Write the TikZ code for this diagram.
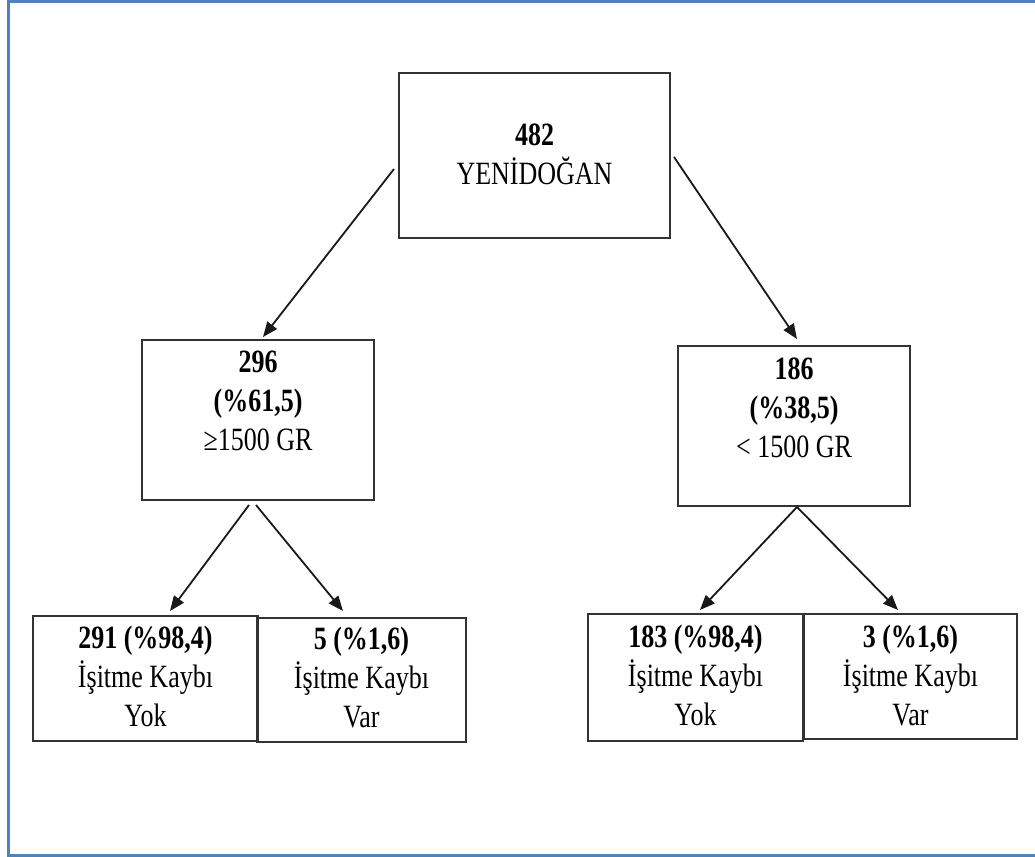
\documentclass[tikz,border=0pt]{standalone}
\usepackage{fontspec}
\setmainfont{Liberation Serif}[FakeStretch=0.8]
\usetikzlibrary{arrows.meta}
\definecolor{frameblue}{HTML}{4F81BD}
\definecolor{boxline}{HTML}{333333}
\tikzset{
  box/.style={draw=boxline, line width=2pt, inner sep=0pt, rectangle},
  txt/.style={inner sep=0pt, anchor=base, font=\fontsize{32.5}{39}\selectfont},
  arr/.style={line width=1.8pt, draw=black!90, -{Triangle[length=15pt,width=12pt]}}
}
\newcommand{\lines}[1]{\begin{tabular}[t]{@{}c@{}}#1\end{tabular}}
\begin{document}
\begin{tikzpicture}[x=1pt,y=-1pt]
\useasboundingbox (0,0) rectangle (1035,856);
\draw[frameblue, line width=3pt] (1040,2) -- (8,2) -- (8,855) -- (1040,855);
% boxes
\node[box, minimum width=271pt, minimum height=165pt] (top) at (534.5,155.5) {};
\node[box, minimum width=232pt, minimum height=160pt] (lm) at (258,420) {};
\node[box, minimum width=232pt, minimum height=160pt] (rm) at (794,426) {};
\node[box, minimum width=225pt, minimum height=125pt] (ll) at (145.5,678.5) {};
\node[box, minimum width=209pt, minimum height=124pt] (lr) at (361.5,680) {};
\node[box, minimum width=215pt, minimum height=127pt] (rl) at (695.5,677.5) {};
\node[box, minimum width=213pt, minimum height=125pt] (rr) at (910.5,676.5) {};
% texts
\node[txt] (topT) at (534.5,145) {\lines{\textbf{482}\\YENİDOĞAN}};
\node[txt] (lmT) at (258,372) {\lines{\textbf{296}\\\textbf{(\%61,5)}\\≥1500 GR}};
\node[txt] (rmT) at (794,379) {\lines{\textbf{186}\\\textbf{(\%38,5)}\\< 1500 GR}};
\node[txt] (llT) at (145.5,648) {\lines{\textbf{291 (\%98,4)}\\İşitme Kaybı\\Yok}};
\node[txt] (lrT) at (361.5,649) {\lines{\textbf{5 (\%1,6)}\\İşitme Kaybı\\Var}};
\node[txt] (rlT) at (695.5,647) {\lines{\textbf{183 (\%98,4)}\\İşitme Kaybı\\Yok}};
\node[txt] (rrT) at (910.5,647) {\lines{\textbf{3 (\%1,6)}\\İşitme Kaybı\\Var}};
% connectors
\draw[arr] ([shift={(-4,97)}]top.north west) -- ([shift={(5,-2)}]lm.north);
\draw[arr] ([shift={(3,85)}]top.north east) -- ([shift={(3,-6)}]rm.north);
\draw[arr] ([shift={(-9,4)}]lm.south) -- ([shift={(24.5,-4)}]ll.north);
\draw[arr] ([shift={(-2,4)}]lm.south) -- ([shift={(-18.5,-6)}]lr.north);
\draw[arr] ([shift={(3,0)}]rm.south) -- ([shift={(4.5,-3)}]rl.north);
\draw[arr] ([shift={(3,0)}]rm.south) -- ([shift={(-12.5,-3)}]rr.north);
\end{tikzpicture}
\end{document}
